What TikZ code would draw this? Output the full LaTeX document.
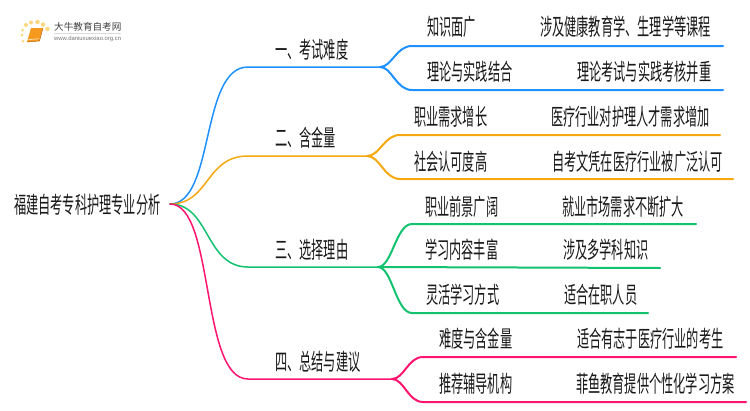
\documentclass[tikz,border=0pt]{standalone}
\usepackage{fontspec}
\usetikzlibrary{positioning}
\setmainfont{Liberation Sans}
\newfontfamily\cjkthin[FakeStretch=0.53]{Noto Sans CJK SC}
\newfontfamily\cjklogo{Noto Sans CJK SC}
\definecolor{mapblue}{HTML}{1E90FF}
\definecolor{maporange}{HTML}{F5A80F}
\definecolor{mapgreen}{HTML}{12C26F}
\definecolor{mappink}{HTML}{FF1470}
\definecolor{bookorange}{HTML}{F59A1E}
\definecolor{dotyellow}{HTML}{FBD77E}
\tikzset{
	label/.style={anchor=west,inner sep=0pt,text=black!90,font=\fontsize{23}{24}\cjkthin},
	trunk/.style={line width=1.5pt,line cap=round},
	twig/.style={line width=2pt,line cap=round},
	logodot/.style={circle,fill=dotyellow,inner sep=0pt}
}

\begin{document}
\begin{tikzpicture}[x=1pt,y=-1pt]
	\useasboundingbox (0,0) rectangle (750,410);
	
	\node[label] (root) at (14,205) {福建自考专科护理专业分析};
	\coordinate (rootout) at (170,204);
	
	\node[label] (branchA) at (275,50) {一、考试难度};
	\node[label] (branchB) at (275,138) {二、含金量};
	\node[label] (branchC) at (275,250) {三、选择理由};
	\node[label] (branchD) at (275,362) {四、总结与建议};
	
	\coordinate (forkA) at (380,67);
	\coordinate (forkB) at (367,156);
	\coordinate (forkC) at (378,267);
	\coordinate (forkD) at (392,379);
	
	\draw[trunk,mapblue] (rootout) .. controls (215,204) and (200,67) .. (248,67) to (forkA);
	\draw[trunk,maporange] (rootout) .. controls (210,204) and (205,156) .. (248,156) to (forkB);
	\draw[trunk,mapgreen] (rootout) .. controls (210,204) and (205,267) .. (248,267) to (forkC);
	\draw[trunk,mappink] (rootout) .. controls (215,204) and (200,379) .. (248,379) to (forkD);
	
	\node[label] (itemAa) at (427,27) {知识面广};
	\node[label] (noteAa) at (540,27) {涉及健康教育学、生理学等课程};
	\node[label] (itemAb) at (427,72) {理论与实践结合};
	\node[label] (noteAb) at (577,72) {理论考试与实践考核并重};
	\coordinate (endAa) at (723,46);
	\coordinate (endAb) at (723,90);
	\draw[twig,mapblue] (forkA) .. controls (392,67) and (396,46) .. (412,46) to (endAa);
	\draw[twig,mapblue] (forkA) .. controls (392,67) and (396,90) .. (412,90) to (endAb);
	
	\node[label] (itemBa) at (414,117) {职业需求增长};
	\node[label] (noteBa) at (551,117) {医疗行业对护理人才需求增加};
	\node[label] (itemBb) at (414,162) {社会认可度高};
	\node[label] (noteBb) at (552,162) {自考文凭在医疗行业被广泛认可};
	\coordinate (endBa) at (720,135);
	\coordinate (endBb) at (733,179);
	\draw[twig,maporange] (forkB) .. controls (380,156) and (384,135) .. (400,135) to (endBa);
	\draw[twig,maporange] (forkB) .. controls (380,156) and (384,179) .. (400,179) to (endBb);
	
	\node[label] (itemCa) at (425,207) {职业前景广阔};
	\node[label] (noteCa) at (562,207) {就业市场需求不断扩大};
	\node[label] (itemCb) at (425,250) {学习内容丰富};
	\node[label] (noteCb) at (563,250) {涉及多学科知识};
	\node[label] (itemCc) at (426,295) {灵活学习方式};
	\node[label] (noteCc) at (564,295) {适合在职人员};
	\coordinate (endCa) at (696,224);
	\coordinate (endCb) at (660,268);
	\coordinate (endCc) at (648,313);
	\draw[twig,mapgreen] (forkC) .. controls (392,267) and (396,224) .. (412,224) to (endCa);
	\draw[twig,mapgreen] (forkC) to (endCb);
	\draw[twig,mapgreen] (forkC) .. controls (392,267) and (396,313) .. (412,313) to (endCc);
	
	\node[label] (itemDa) at (439,339) {难度与含金量};
	\node[label] (noteDa) at (577,339) {适合有志于医疗行业的考生};
	\node[label] (itemDb) at (439,384) {推荐辅导机构};
	\node[label] (noteDb) at (576,384) {菲鱼教育提供个性化学习方案};
	\coordinate (endDa) at (736,357);
	\coordinate (endDb) at (746,402);
	\draw[twig,mappink] (forkD) .. controls (404,379) and (408,357) .. (423,357) to (endDa);
	\draw[twig,mappink] (forkD) .. controls (404,379) and (408,402) .. (423,402) to (endDb);
	
	\node[logodot,minimum size=3pt] (dotA) at (23,41) {};
	\node[logodot,minimum size=3pt] (dotB) at (22,35) {};
	\node[logodot,minimum size=3pt] (dotC) at (22.5,30) {};
	\node[logodot,minimum size=4pt] (dotD) at (26,25) {};
	\node[logodot,minimum size=4pt] (dotE) at (31,22.5) {};
	\node[logodot,minimum size=4.5pt] (dotF) at (37.5,22) {};
	\node[logodot,minimum size=4.5pt] (dotG) at (43,24.5) {};
	\node[logodot,minimum size=4.5pt] (dotH) at (47.5,29) {};
	\fill[bookorange] (31,28) -- (43,28) -- (39.5,41) -- (27,42) -- cycle;
	\draw[white,line width=0.5pt] (28.5,39.5) -- (39.5,38.8);
	\draw[orange!70!black,line width=0.4pt] (27,42) -- (39.5,41) -- (43,28);
	\node[anchor=west,inner sep=0pt,text=black!75,font=\fontsize{9.6}{10}\cjklogo] (logoname) at (54,27) {大牛教育自考网};
	\node[anchor=west,inner sep=0pt,text=black!55,font=\fontsize{5.9}{6}\selectfont] (logourl) at (54,38.5) {www.daniuxuexiao.org.cn};
	\coordinate (ruleL) at (54,33);
	\coordinate (ruleR) at (121,33);
	\draw[black!15,line width=0.5pt] (ruleL) to (ruleR);
	
\end{tikzpicture}
\end{document}
